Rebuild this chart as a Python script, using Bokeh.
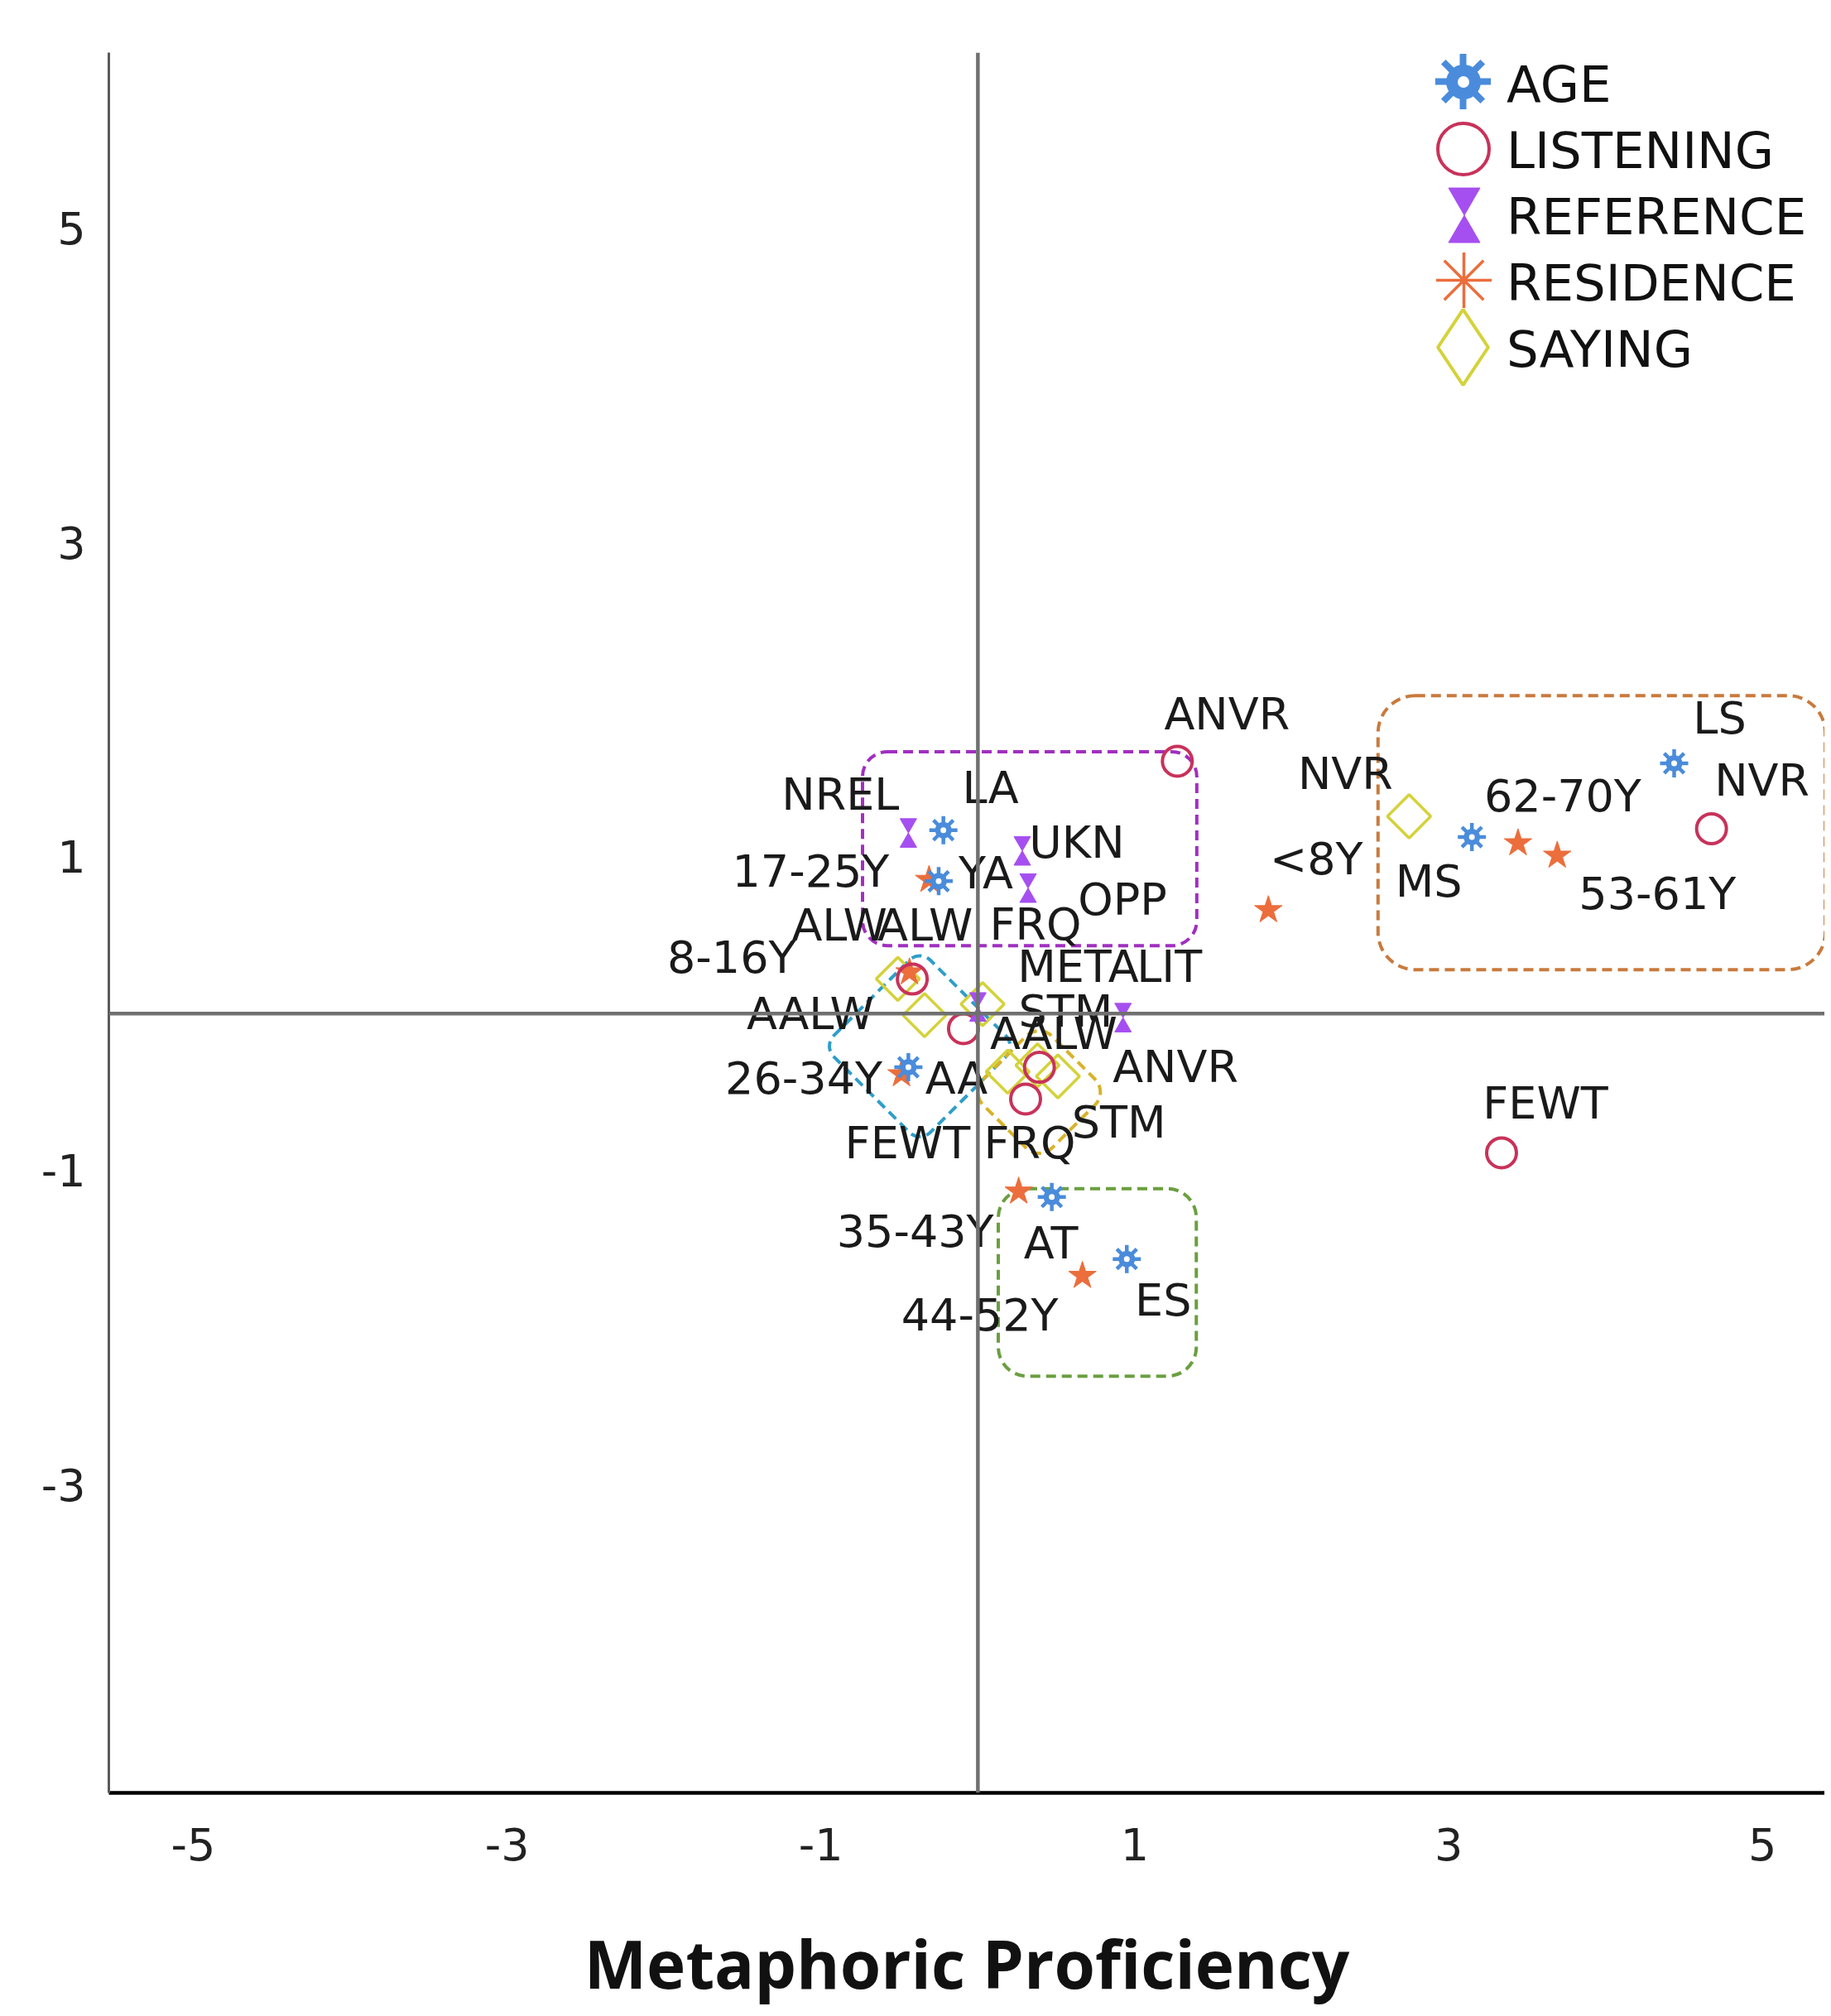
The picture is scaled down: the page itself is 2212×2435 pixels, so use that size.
import math
from bokeh.plotting import figure
from bokeh.models import Range1d, Span, FixedTicker, Legend, LegendItem, ColumnDataSource
from bokeh.transform import dodge
from bokeh.core.properties import value
from bokeh.embed import file_html
from bokeh.resources import INLINE

# ---------------- data ----------------
AGE_LABELS = ["LA", "YA", "AA", "AT", "ES", "MS", "LS"]
AGE_X = [-0.22, -0.25, -0.443, 0.471, 0.949, 3.148, 4.437]
AGE_Y = [1.168, 0.843, -0.342, -1.168, -1.563, 1.124, 1.594]

LIS_LABELS = ["ANVR", "NVR", "FEWT", "ALW", "AALW", "STM", "FRQ"]
LIS_X = [1.271, 4.675, 3.337, -0.418, -0.092, 0.392, 0.304]
LIS_Y = [1.607, 1.177, -0.887, 0.220, -0.096, -0.342, -0.544]

REF_LABELS = ["NREL", "UKN", "OPP", "META", "LIT"]
REF_X = [-0.443, 0.283, 0.320, 0.0, 0.925]
REF_Y = [1.150, 1.036, 0.799, 0.042, -0.026]

RES_LABELS = ["<8Y", "8-16Y", "17-25Y", "26-34Y", "35-43Y", "44-52Y", "53-61Y", "62-70Y"]
RES_X = [1.851, -0.436, -0.311, -0.487, 0.26, 0.666, 3.692, 3.442]
RES_Y = [0.659, 0.263, 0.852, -0.386, -1.133, -1.670, 1.006, 1.085]

SAY_LABELS = ["NVR", "ALW", "AALW", "FRQ", "FEWT", "STM", "ANVR"]
SAY_X = [2.748, -0.51, -0.34, 0.03, 0.19, 0.38, 0.51]
SAY_Y = [1.256, 0.221, -0.01, 0.06, -0.37, -0.33, -0.40]

SERIES = ["AGE", "LISTENING", "REFERENCE", "RESIDENCE", "SAYING"]

# group outlines (dashed rounded boxes)
GROUP_X = [0.33, 3.975, 0.761, -0.37, 0.39]
GROUP_Y = [1.05, 1.152, -1.712, -0.208, -0.50]
GROUP_W = [2.13, 2.85, 1.262, 0.87, 0.62]
GROUP_H = [1.235, 1.745, 1.194, 0.87, 0.62]
GROUP_ANGLE = [0, 0, 0, 45, 45]

TICKS = [-5, -3, -1, 1, 3, 5]
TICK_LABELS = ["-5", "-3", "-1", "1", "3", "5"]

# ---------------- styling ----------------
BLUE = "#4a8cdb"
CRIMSON = "#c8325a"
PURPLE = "#a64ff0"
ORANGE = "#eb6e3c"
YELLOW = "#d4d23a"
GROUP_COLOR = ["#a12fc0", "#c97a3c", "#6a9f3f", "#2f9ec8", "#d9b22a"]
GROUP_RADIUS = [30, 45, 35, 18, 22]

# label offsets in screen pixels (+y is down)
AGE_DX = [57, 57, 58, -1, 44, -52, 55]
AGE_DY = [-51, -10, 13, 56, 50, 53, -54]
LIS_DX = [60, 61, 53, -88, 109, 96, 5]
LIS_DY = [-57, -58, -60, -65, 6, 66, 53]
REF_DX = [-82, 66, 114, 121, 56]
REF_DY = [-47, -10, 14, -49, -62]
RES_DX = [58, -215, -143, -118, -125, -124, 121, 54]
RES_DY = [-62, -18, -10, 5, 48, 48, 46, -57]
SAY_DX = [-77, 33, -138, 64, -121, 34, 142]
SAY_DY = [-52, -65, -2, -96, 86, -65, -12]

FONT = "DejaVu Sans"
FRAME_LEFT = 131.0      # page px
FRAME_BOTTOM = 2167.0   # page px
NAN = float("nan")

p = figure(width=2204, height=2427,
           x_range=Range1d(-5.538, 5.397), y_range=Range1d(-4.963, 6.12),
           output_backend="svg", toolbar_location=None,
           min_border_left=131, min_border_right=0,
           min_border_top=63, min_border_bottom=260)
p.xgrid.visible = False
p.ygrid.visible = False
p.outline_line_color = None
p.background_fill_color = "white"
p.border_fill_color = "white"

for ax in (p.xaxis[0], p.yaxis[0]):
    ax.ticker = FixedTicker(ticks=TICKS)
    ax.major_label_overrides = {t: s for t, s in zip(TICKS, TICK_LABELS)}
    ax.major_tick_line_color = None
    ax.minor_tick_line_color = None
    ax.major_tick_out = 0
    ax.major_tick_in = 0
    ax.minor_tick_out = 0
    ax.major_label_text_font = FONT
    ax.major_label_text_font_size = "54px"
    ax.major_label_text_color = "#222222"

p.xaxis.axis_line_color = "black"
p.xaxis.axis_line_width = 4.5
p.xaxis.major_label_standoff = 42
p.xaxis.axis_label = "Metaphoric Proficiency"
p.xaxis.axis_label_text_font = "Open Sans"
p.xaxis.axis_label_text_font_style = "bold"
p.xaxis.axis_label_text_font_size = "80px"
p.xaxis.axis_label_text_color = "#111111"
p.xaxis.axis_label_standoff = 66

p.yaxis.axis_line_color = "#5a5a5a"
p.yaxis.axis_line_width = 3
p.yaxis.major_label_standoff = 28

p.add_layout(Span(location=0, dimension="width", line_color="#707070", line_width=4.5))
p.add_layout(Span(location=0, dimension="height", line_color="#707070", line_width=4.5))

# dashed rounded group boxes
for gx, gy, gw, gh, ga, gc, gr in zip(GROUP_X, GROUP_Y, GROUP_W, GROUP_H,
                                      GROUP_ANGLE, GROUP_COLOR, GROUP_RADIUS):
    p.rect(x=[gx], y=[gy], width=[gw], height=[gh], angle=math.radians(ga),
           fill_alpha=0, line_color=gc, line_width=4, line_dash="12 7",
           border_radius=gr)

# SAYING diamonds
p.scatter(SAY_X, SAY_Y, marker="square", angle=math.pi / 4, size=37,
          fill_alpha=0, line_color=YELLOW, line_width=3.5)
# RESIDENCE stars
p.scatter(RES_X, RES_Y, marker="star", size=35, fill_color=ORANGE,
          line_color=ORANGE, line_width=1)
# LISTENING circles
p.scatter(LIS_X, LIS_Y, marker="circle", size=36, fill_alpha=0,
          line_color=CRIMSON, line_width=4)
# REFERENCE hourglasses: two triangles meeting at the point
ref_src = ColumnDataSource(dict(x=REF_X, y=REF_Y))
p.scatter(x="x", y=dodge("y", 0.0607, range=p.y_range), source=ref_src,
          marker="inverted_triangle", size=20, fill_color=PURPLE, line_color=PURPLE, line_width=1)
p.scatter(x="x", y=dodge("y", -0.0607, range=p.y_range), source=ref_src,
          marker="triangle", size=20, fill_color=PURPLE, line_color=PURPLE, line_width=1)
# AGE gears
p.scatter(AGE_X, AGE_Y, marker="asterisk", size=34, line_color=BLUE, line_width=4.5)
p.scatter(AGE_X, AGE_Y, marker="circle", size=20, fill_color=BLUE, line_color=None)
p.scatter(AGE_X, AGE_Y, marker="circle", size=7, fill_color="white", line_color=None)

# point labels
for xs, ys, ls, dx, dy in [(AGE_X, AGE_Y, AGE_LABELS, AGE_DX, AGE_DY),
                           (LIS_X, LIS_Y, LIS_LABELS, LIS_DX, LIS_DY),
                           (REF_X, REF_Y, REF_LABELS, REF_DX, REF_DY),
                           (RES_X, RES_Y, RES_LABELS, RES_DX, RES_DY),
                           (SAY_X, SAY_Y, SAY_LABELS, SAY_DX, SAY_DY)]:
    p.text(x=xs, y=ys, text=ls, x_offset=dx, y_offset=dy,
           text_font=value(FONT), text_font_size="54px", text_color="#1a1a1a",
           text_align="center", text_baseline="middle")

# ---------------- legend ----------------
def proxy(**kw):
    # legend-only renderer: one undrawable (NaN) point so the legend can draw its glyph
    return p.scatter(x=[NAN], y=[NAN], **kw)

def glyph_legend(renderer, box, cx, cy):
    leg = Legend(items=[LegendItem(label=" ", renderers=[renderer])],
                 location=(cx - box / 2 - FRAME_LEFT, FRAME_BOTTOM - (cy + box / 2)),
                 glyph_width=int(box), glyph_height=int(box),
                 label_width=0, label_height=0, label_standoff=0,
                 padding=0, margin=0, spacing=0,
                 border_line_color=None, background_fill_alpha=0,
                 label_text_font_size="1px")
    p.add_layout(leg)

lg_age1 = proxy(marker="asterisk", line_color=BLUE, line_width=8)
lg_age2 = proxy(marker="circle", fill_color=BLUE, line_color=None)
lg_age3 = proxy(marker="circle", fill_color="white", line_color=None)
lg_lis = proxy(marker="circle", fill_alpha=0, line_color=CRIMSON, line_width=4)
lg_ref1 = proxy(marker="inverted_triangle", fill_color=PURPLE, line_color=PURPLE)
lg_ref2 = proxy(marker="triangle", fill_color=PURPLE, line_color=PURPLE)
lg_res = proxy(marker="asterisk", line_color=ORANGE, line_width=3.5)
lg_say = proxy(marker="diamond", fill_alpha=0, line_color=YELLOW, line_width=4)

glyph_legend(lg_age1, 168, 1767, 100)
glyph_legend(lg_age2, 105, 1767, 100)
glyph_legend(lg_age3, 35, 1767, 100)
glyph_legend(lg_lis, 155, 1767, 181)
glyph_legend(lg_ref1, 95, 1768, 239)
glyph_legend(lg_ref2, 95, 1768, 283)
glyph_legend(lg_res, 168, 1768, 340)
glyph_legend(lg_say, 228, 1767, 421)

blank = proxy(marker="circle", alpha=0)
text_leg = Legend(items=[LegendItem(label=s, renderers=[blank]) for s in SERIES],
                  location=(1810 - FRAME_LEFT, FRAME_BOTTOM - 463),
                  glyph_width=10, glyph_height=80, label_height=0, label_standoff=0,
                  padding=0, margin=0, spacing=0,
                  border_line_color=None, background_fill_alpha=0,
                  label_text_font=FONT, label_text_font_size="61px",
                  label_text_color="#111111")
p.add_layout(text_leg)

open("out.html", "w").write(file_html(p, INLINE))
